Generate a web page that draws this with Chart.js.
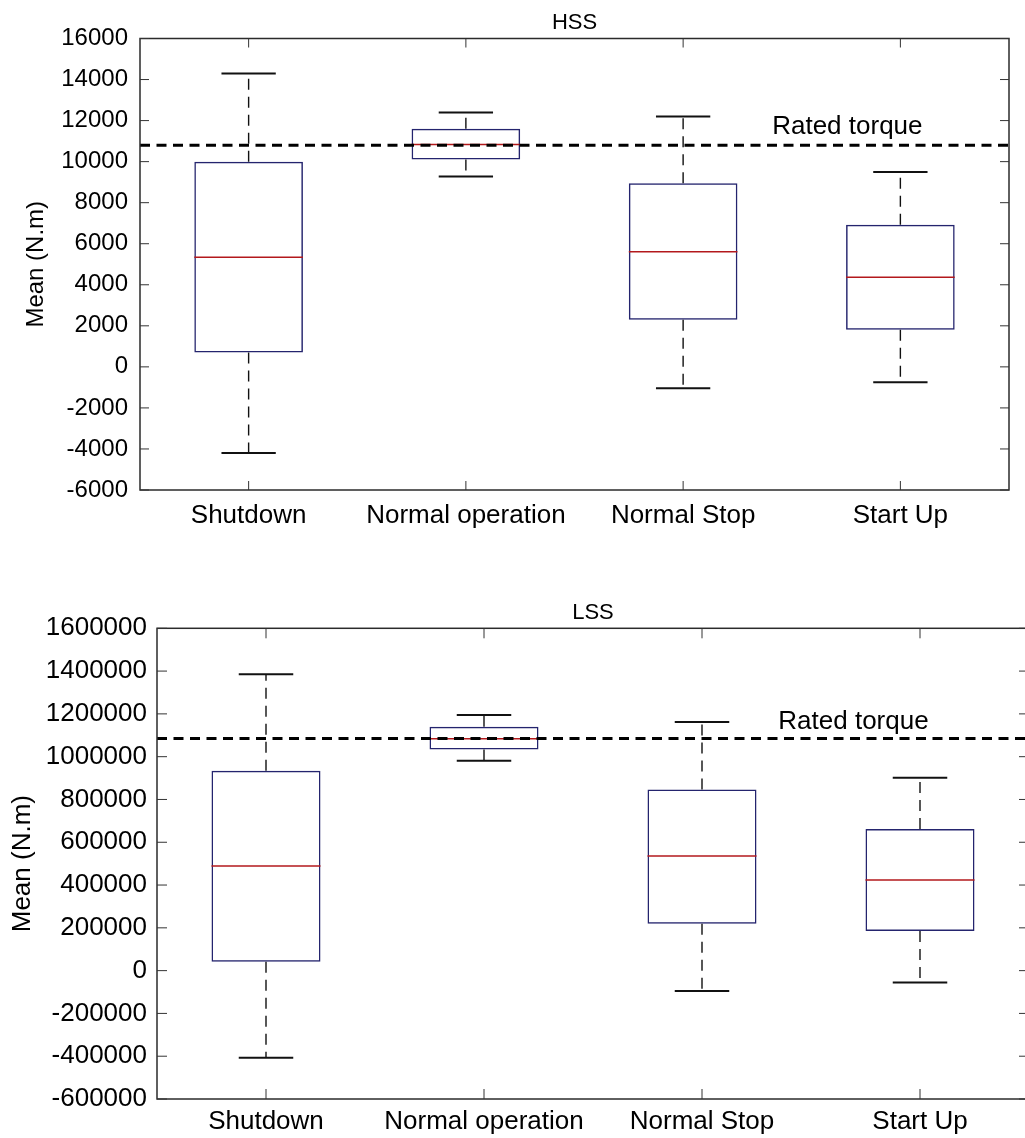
<!DOCTYPE html>
<html>
<head>
<meta charset="utf-8">
<title>HSS / LSS torque by operating state</title>
<script src="https://cdn.jsdelivr.net/npm/chart.js@4.4.1/dist/chart.umd.min.js"></script>
<style>
  html, body { margin: 0; padding: 0; background: #ffffff; overflow: hidden; }
  body { width: 1025px; height: 1138px; position: relative; }
  .panel { position: absolute; left: 0; }
  #hssPanel { top: 0; width: 1025px; height: 560px; }
  #lssPanel { top: 560px; width: 1045px; height: 578px; }
</style>
</head>
<body>
<div id="hssPanel" class="panel"><canvas id="hssChart" width="1025" height="560"></canvas></div>
<div id="lssPanel" class="panel"><canvas id="lssChart" width="1045" height="578"></canvas></div>
<script>
// Operating states shown on both panels
const categories = ['Shutdown', 'Normal operation', 'Normal Stop', 'Start Up'];

// High-speed shaft (HSS) mean torque, N.m
const hssLowerWhisker = [-4200, 9270, -1040, -750];
const hssQ1           = [700, 10100, 2300, 1810];
const hssMedian       = [5340, 10830, 5610, 4370];
const hssQ3           = [10000, 11600, 8950, 6930];
const hssUpperWhisker = [14300, 12400, 12200, 9500];
const hssRated = 10800;
const hssTicks = [-6000, -4000, -2000, 0, 2000, 4000, 6000, 8000, 10000, 12000, 14000, 16000];

// Low-speed shaft (LSS) mean torque, N.m
const lssLowerWhisker = [-407000, 981000, -95000, -55000];
const lssQ1           = [42000, 1034000, 219000, 185000];
const lssMedian       = [489000, 1084000, 536000, 423000];
const lssQ3           = [934000, 1140000, 847000, 662000];
const lssUpperWhisker = [1385000, 1195000, 1162000, 902000];
const lssRated = 1085000;
const lssTicks = [-600000, -400000, -200000, 0, 200000, 400000, 600000, 800000,
                  1000000, 1200000, 1400000, 1600000];

const FONT = '"Liberation Sans", Arial, Helvetica, sans-serif';
const BOX_EDGE = '#24246e';
const MEDIAN_RED = '#b3191c';
const INK = '#111111';
const FRAME = '#2b2b2b';

function line(ctx, x1, y1, x2, y2) {
  ctx.beginPath();
  ctx.moveTo(x1, y1);
  ctx.lineTo(x2, y2);
  ctx.stroke();
}

// Whiskers, caps, medians, the rated-torque reference line, the frame, inward ticks and panel title
const boxPlotExtras = {
  id: 'boxPlotExtras',
  afterDatasetsDraw(chart, args, opts) {
    const { ctx, chartArea: area, scales: { x, y } } = chart;
    const meta = chart.getDatasetMeta(0);
    ctx.save();
    ctx.lineCap = 'butt';

    meta.data.forEach((bar, i) => {
      const cx = x.getPixelForValue(i);
      const half = bar.width / 2;
      const capHalf = half / 2;
      const yLo = y.getPixelForValue(opts.lower[i]);
      const yQ1 = y.getPixelForValue(opts.q1[i]);
      const yMed = y.getPixelForValue(opts.median[i]);
      const yQ3 = y.getPixelForValue(opts.q3[i]);
      const yHi = y.getPixelForValue(opts.upper[i]);

      // dashed whiskers from the box edges out to the caps
      ctx.strokeStyle = INK;
      ctx.lineWidth = 1.4;
      ctx.setLineDash([11, 7]);
      line(ctx, cx, yQ3, cx, yHi);
      line(ctx, cx, yQ1, cx, yLo);

      // caps
      ctx.setLineDash([]);
      ctx.lineWidth = 2;
      line(ctx, cx - capHalf, yHi, cx + capHalf, yHi);
      line(ctx, cx - capHalf, yLo, cx + capHalf, yLo);

      // median
      ctx.strokeStyle = MEDIAN_RED;
      ctx.lineWidth = 1.5;
      line(ctx, cx - half, yMed, cx + half, yMed);
    });

    // rated torque reference
    const yR = y.getPixelForValue(opts.rated);
    ctx.strokeStyle = '#000000';
    ctx.lineWidth = 3;
    ctx.setLineDash([10, 6.5]);
    line(ctx, area.left, yR, area.right, yR);
    ctx.setLineDash([]);

    ctx.fillStyle = '#000000';
    ctx.font = `${opts.labelSize}px ${FONT}`;
    ctx.textAlign = 'left';
    ctx.textBaseline = 'alphabetic';
    ctx.fillText('Rated torque', x.getPixelForValue(opts.labelAt), yR - opts.labelGap);

    // panel title, centred over the plotting area
    ctx.font = `22px ${FONT}`;
    ctx.textAlign = 'center';
    ctx.fillText(opts.title, (area.left + area.right) / 2, area.top - opts.titleGap);

    // frame
    ctx.strokeStyle = FRAME;
    ctx.lineWidth = 1.5;
    ctx.strokeRect(area.left, area.top, area.right - area.left, area.bottom - area.top);

    // inward tick marks
    const tl = opts.tickLength;
    ctx.lineWidth = 1;
    ctx.strokeStyle = '#333333';
    y.ticks.forEach(t => {
      const py = y.getPixelForValue(t.value);
      line(ctx, area.left, py, area.left + tl, py);
      line(ctx, area.right - tl, py, area.right, py);
    });
    categories.forEach((c, i) => {
      const px = x.getPixelForValue(i);
      line(ctx, px, area.top, px, area.top + tl);
      line(ctx, px, area.bottom - tl, px, area.bottom);
    });
    ctx.restore();
  }
};

function makeChart(canvasId, cfg) {
  return new Chart(document.getElementById(canvasId), {
    type: 'bar',
    data: {
      labels: categories,
      datasets: [{
        data: cfg.q1.map((v, i) => [v, cfg.q3[i]]),
        backgroundColor: 'rgba(255,255,255,0)',
        borderColor: BOX_EDGE,
        borderWidth: 1.5,
        borderSkipped: false,
        barPercentage: 0.5,
        categoryPercentage: 1.0
      }]
    },
    options: {
      responsive: false,
      animation: false,
      events: [],
      devicePixelRatio: 1,
      layout: { padding: { left: 0, right: cfg.padRight, top: cfg.padTop, bottom: 0 } },
      plugins: {
        legend: { display: false },
        tooltip: { enabled: false },
        title: { display: false },
        boxPlotExtras: {
          title: cfg.title, titleGap: 9.5,
          lower: cfg.lower, q1: cfg.q1, median: cfg.median, q3: cfg.q3, upper: cfg.upper,
          rated: cfg.rated, labelAt: cfg.labelAt, labelGap: cfg.labelGap,
          labelSize: 26, tickLength: cfg.tickLength
        }
      },
      scales: {
        x: {
          grid: { display: false, drawTicks: false },
          border: { display: false },
          ticks: {
            color: '#000000',
            font: { family: FONT, size: 26 },
            padding: cfg.xPad,
            maxRotation: 0,
            autoSkip: false
          },
          afterFit: s => { s.height = cfg.xHeight; }
        },
        y: {
          min: cfg.ticks[0],
          max: cfg.ticks[cfg.ticks.length - 1],
          grid: { display: false, drawTicks: false },
          border: { display: false },
          afterBuildTicks: s => { s.ticks = cfg.ticks.map(v => ({ value: v })); },
          ticks: {
            color: '#000000',
            font: { family: FONT, size: cfg.yTickSize },
            padding: cfg.yPad,
            callback: v => String(v)
          },
          title: {
            display: true,
            text: 'Mean (N.m)',
            color: '#000000',
            font: { family: FONT, size: cfg.yTitleSize, lineHeight: 1.2 },
            padding: { top: cfg.yTitlePad, bottom: 0 }
          },
          afterFit: s => { s.width = cfg.yWidth; }
        }
      }
    },
    plugins: [boxPlotExtras]
  });
}

makeChart('hssChart', {
  title: 'HSS',
  lower: hssLowerWhisker, q1: hssQ1, median: hssMedian, q3: hssQ3, upper: hssUpperWhisker,
  rated: hssRated, ticks: hssTicks,
  padTop: 38.5, padRight: 16, xHeight: 70, xPad: 10,
  yWidth: 140, yPad: 12, yTickSize: 24, yTitleSize: 24, yTitlePad: 22,
  labelAt: 2.41, labelGap: 11, tickLength: 9
});

makeChart('lssChart', {
  title: 'LSS',
  lower: lssLowerWhisker, q1: lssQ1, median: lssMedian, q3: lssQ3, upper: lssUpperWhisker,
  rated: lssRated, ticks: lssTicks,
  padTop: 68.3, padRight: 16, xHeight: 39, xPad: 7,
  yWidth: 157, yPad: 10, yTickSize: 26, yTitleSize: 26, yTitlePad: 7,
  labelAt: 2.35, labelGap: 9, tickLength: 10
});
</script>
</body>
</html>
